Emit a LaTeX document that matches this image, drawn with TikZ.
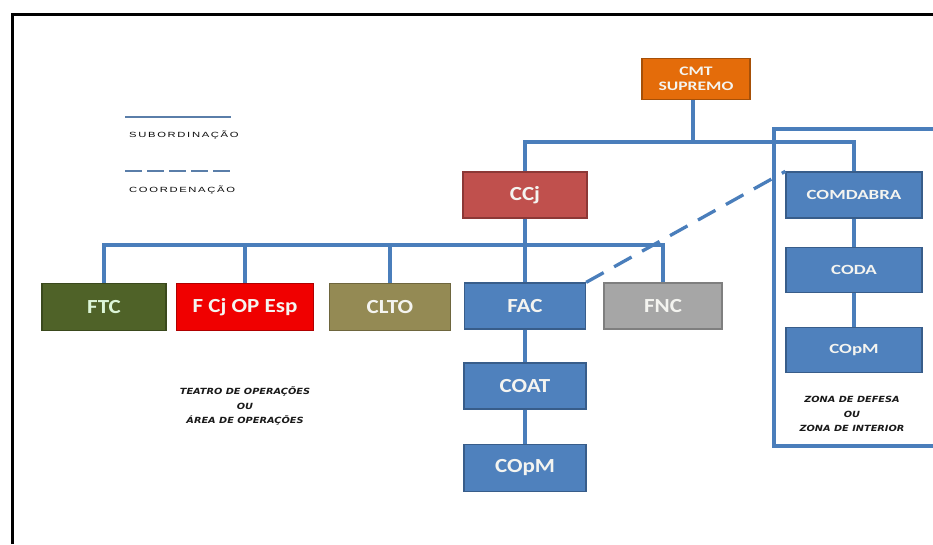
\documentclass[tikz,border=0pt]{standalone}
\usepackage{fontspec}
\setmainfont{Carlito}
\newfontfamily\boxfont{Carlito}[FakeStretch=1.15]
\newfontfamily\smallboxfont{Carlito}[FakeStretch=1.35]
\newfontfamily\legfont{Liberation Sans}[FakeStretch=1.5,LetterSpace=22]
\newfontfamily\zonefont{DejaVu Sans}[FakeStretch=1.15]
\definecolor{lineblue}{HTML}{4A7EBB}
\definecolor{cmtfill}{HTML}{E46C0A}
\definecolor{cmtdraw}{HTML}{A65008}
\definecolor{ccjfill}{HTML}{C0504D}
\definecolor{ccjdraw}{HTML}{8C3836}
\definecolor{ftcfill}{HTML}{4F6228}
\definecolor{ftcdraw}{HTML}{3A491D}
\definecolor{fcjfill}{HTML}{F00000}
\definecolor{fcjdraw}{HTML}{B00000}
\definecolor{cltofill}{HTML}{948A54}
\definecolor{cltodraw}{HTML}{6E663E}
\definecolor{bluefill}{HTML}{4F81BD}
\definecolor{bluedraw}{HTML}{385D8A}
\definecolor{fncfill}{HTML}{A6A6A6}
\definecolor{fncdraw}{HTML}{7F7F7F}
\definecolor{boxtext}{HTML}{F4F4F0}
\tikzset{
  orgbox/.style={draw, line width=1.3pt, inner sep=0pt, align=center,
    text=boxtext, font=\boxfont\bfseries\fontsize{20}{22}\selectfont},
  smallbox/.style={orgbox, font=\smallboxfont\bfseries\fontsize{13}{15.5}\selectfont},
  rightbox/.style={orgbox, fill=bluefill, draw=bluedraw, minimum width=136pt, minimum height=45pt,
    font=\smallboxfont\bfseries\fontsize{14}{16}\selectfont},
  link/.style={draw=lineblue, line width=3.1pt},
  coordlink/.style={draw=lineblue, line width=3.3pt, dash pattern=on 20pt off 12pt},
  legline/.style={draw=lineblue!70!gray, line width=1.1pt},
  legtext/.style={font=\legfont\fontsize{7.5}{8}\selectfont, text=black!95, anchor=west, inner sep=0pt},
  zonetext/.style={font=\zonefont\bfseries\itshape\fontsize{8.5}{14.5}\selectfont, align=center, text=black!90},
  frame/.style={draw=black, line width=3pt}
}
\begin{document}
\begin{tikzpicture}[x=1pt,y=-1pt]
\useasboundingbox (0,0) rectangle (933,544);
% frame
\draw[frame] (12,544) -- (12,14) -- (933,14);
% zone rectangle
\draw[link] (933,129) -- (774,129) -- (774,446) -- (933,446);
% nodes
\node[smallbox, fill=cmtfill, draw=cmtdraw, minimum width=108pt, minimum height=41pt] (cmt) at (696,79) {CMT\\SUPREMO};
\node[orgbox, fill=ccjfill, draw=ccjdraw, minimum width=124pt, minimum height=46pt] (ccj) at (525,195) {CCj};
\node[rightbox, minimum height=46pt] (comdabra) at (854,195) {COMDABRA};
\node[rightbox] (coda) at (854,270) {CODA};
\node[rightbox] (copmr) at (854,350) {COpM};
\node[orgbox, fill=ftcfill, draw=ftcdraw, minimum width=124pt, minimum height=47pt, text=boxtext!90!green] (ftc) at (104,307) {FTC};
\node[orgbox, fill=fcjfill, draw=fcjdraw, minimum width=137pt, minimum height=47pt] (fcj) at (245,307) {F Cj OP Esp};
\node[orgbox, fill=cltofill, draw=cltodraw, minimum width=121pt, minimum height=47pt] (clto) at (390,307) {CLTO};
\node[orgbox, fill=bluefill, draw=bluedraw, minimum width=121pt, minimum height=46pt] (fac) at (525,306) {FAC};
\node[orgbox, fill=fncfill, draw=fncdraw, minimum width=118pt, minimum height=46pt] (fnc) at (663,306) {FNC};
\node[orgbox, fill=bluefill, draw=bluedraw, minimum width=122pt, minimum height=46pt] (coat) at (525,386) {COAT};
\node[orgbox, fill=bluefill, draw=bluedraw, minimum width=122pt, minimum height=47pt] (copm) at (525,468) {COpM};
% bus coordinates
\coordinate (top) at (693,142);
\coordinate (mid) at (525,245);
% connectors
\draw[link] (cmt.south -| top) -- (top);
\draw[link] (ccj.north) |- (top) -| (comdabra.north);
\draw[link] (ccj.south) -- (fac.north);
\draw[link] (ftc.north) |- (mid) -| (fnc.north);
\draw[link] (fcj.north) -- (fcj.north |- mid);
\draw[link] (clto.north) -- (clto.north |- mid);
\draw[link] (fac.south) -- (coat.north);
\draw[link] (coat.south) -- (copm.north);
\draw[link] (comdabra.south) -- (coda.north);
\draw[link] (coda.south) -- (copmr.north);
\draw[coordlink] (fac.north east) -- (comdabra.north west);
% legend
\coordinate (l1a) at (125,117); \coordinate (l1b) at (231,117);
\coordinate (l2a) at (125,171); \coordinate (l2b) at (231,171);
\draw[legline] (l1a) -- (l1b);
\draw[legline, dash pattern=on 17pt off 5pt] (l2a) -- (l2b);
\node[legtext] (sub) at (129,135) {SUBORDINAÇÃO};
\node[legtext] (coord) at (129,190) {COORDENAÇÃO};
% area texts
\node[zonetext] (teatro) at (245,406) {TEATRO DE OPERAÇÕES\\OU\\ÁREA DE OPERAÇÕES};
\node[zonetext] (zona) at (852,414) {ZONA DE DEFESA\\OU\\ZONA DE INTERIOR};
\end{tikzpicture}
\end{document}
